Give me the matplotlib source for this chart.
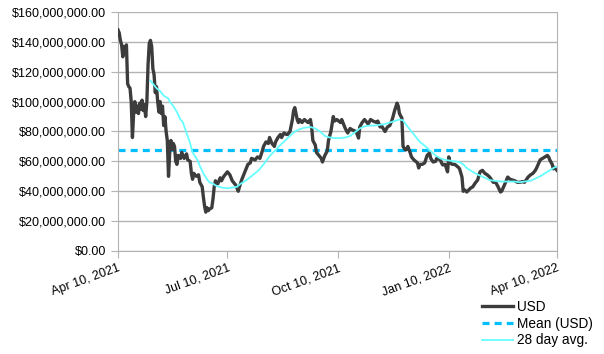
import numpy as np
import matplotlib
matplotlib.use("Agg")
from matplotlib import pyplot as plt
import matplotlib.dates as mdates
from matplotlib.ticker import FuncFormatter

start = np.datetime64("2021-04-10")

# daily value (millions USD), day offset from Apr 10, 2021
usd_days = [0, 1, 2, 3, 4, 5, 6, 7, 8, 9, 10, 11, 12, 13, 14, 15, 16, 17, 18, 19,
            20, 21, 22, 23, 24, 25, 26, 27, 28, 29, 30, 31, 32, 33, 34, 35, 36, 37, 38, 39,
            40, 41, 42, 43, 44, 45, 46, 47, 48, 49, 50, 52, 53, 55, 57, 58, 60, 61, 62, 63,
            65, 67, 68, 70, 71, 72, 73, 74, 75, 76, 78, 79, 80, 81, 83, 85, 86, 88, 90, 91,
            93, 95, 96, 98, 100, 101, 103, 106, 108, 110, 111, 114, 116, 118, 120, 121, 123, 125, 126, 128,
            130, 131, 133, 135, 136, 138, 140, 141, 143, 145, 146, 147, 149, 150, 151, 153, 155, 158, 160, 161,
            162, 164, 165, 167, 169, 170, 172, 174, 175, 177, 179, 180, 182, 185, 186, 189, 191, 193, 195, 198,
            200, 201, 203, 205, 208, 210, 212, 215, 216, 218, 219, 222, 224, 226, 228, 230, 232, 233, 234, 236,
            237, 239, 240, 241, 243, 244, 246, 249, 250, 251, 253, 255, 257, 259, 260, 262, 264, 265, 268, 269,
            270, 272, 274, 275, 276, 278, 280, 283, 284, 286, 287, 288, 290, 293, 295, 297, 299, 301, 303, 305,
            307, 309, 312, 314, 316, 318, 319, 322, 324, 326, 328, 330, 332, 334, 337, 338, 341, 343, 345, 347,
            348, 351, 353, 355, 357, 358, 359, 361, 362, 363, 365]
usd_vals = [148, 146, 141, 138, 130, 137, 133, 138, 112, 110, 109, 100, 76, 92, 100, 93, 97, 92, 99, 95,
            101, 94, 98, 90, 100, 125, 139, 141, 137, 122, 118, 106, 110, 100, 93, 100, 92, 97, 84, 90,
            80, 74, 50, 66, 74, 68, 72, 70, 60, 58, 64, 62, 66, 62, 65, 61, 60, 52, 48, 52,
            50, 51, 46, 43, 36, 30, 26, 29, 27, 28, 29, 35, 43, 47, 45, 49, 47, 50, 52, 53,
            51, 47, 46, 44, 40, 43, 48, 54, 58, 59, 62, 61, 63, 62, 67, 70, 73, 72, 76, 72,
            70, 73, 76, 78, 76, 79, 78, 78, 80, 88, 94, 96, 88, 86, 88, 86, 88, 86, 88, 83,
            74, 71, 66, 64, 62, 59.6, 64, 67, 74, 80, 90, 87, 88, 86, 88, 82, 79, 82, 81, 80,
            75.6, 83, 86, 88, 85, 88, 87, 86, 87, 83, 84, 80, 83, 84, 88, 94, 99, 97, 92, 89,
            70, 67.6, 68, 70, 65.6, 63, 61, 59, 55.6, 58, 58, 59, 64, 65.6, 62, 59.6, 60, 62, 61, 59,
            57.6, 58, 53, 63, 59, 58, 58, 56, 55, 49.5, 40, 41, 39.5, 42, 43, 45.5, 47.5, 53, 54, 52,
            51, 49.5, 46, 46, 43, 39.5, 40, 45.5, 49.5, 48, 47.5, 47, 46, 46, 46.5, 46, 49.5, 51, 52, 54,
            55.5, 61, 62, 63, 64, 63, 61, 58, 55, 56, 54]

avg_days = [27, 29, 32, 35, 38, 42, 43, 46, 49, 52, 54, 57, 60, 62, 66, 68, 71, 74, 76, 79,
            82, 86, 91, 95, 99, 101, 106, 110, 114, 118, 122, 126, 131, 135, 139, 143, 147, 151, 155, 160,
            164, 168, 172, 176, 180, 185, 189, 193, 197, 201, 205, 210, 214, 218, 222, 226, 230, 234, 237, 240,
            243, 247, 251, 255, 259, 264, 268, 272, 276, 280, 284, 287, 290, 293, 297, 301, 305, 309, 313, 318,
            322, 326, 330, 334, 338, 343, 347, 351, 355, 359, 363, 365]
avg_vals = [114, 112, 109, 107, 104, 102, 100, 97, 93, 88, 86, 79, 72, 66, 61, 57, 52, 48, 46, 45,
            43.5, 42.5, 42, 42.5, 43, 44.5, 47, 49.5, 52, 55, 59, 63.5, 67.6, 71, 74, 77, 80, 81.5, 82.5, 83,
            82, 80, 77, 76, 75.6, 75.6, 76, 77, 79.5, 82, 83.5, 84, 84, 84.5, 85, 86, 87, 88, 87.5, 84,
            81, 77, 73, 70.5, 67.6, 64, 62, 61, 60.5, 60, 59.5, 58, 55.5, 54, 52, 50.5, 49, 47.5, 47, 46.5,
            46.5, 46.5, 46.5, 46, 46.5, 47, 48.5, 50, 52, 54, 56, 56.5]

mean_val = 67.6  # millions

usd_dates = start + np.array(usd_days).astype("timedelta64[D]")
avg_dates = start + np.array(avg_days).astype("timedelta64[D]")
tick_dates = np.array(["2021-04-10", "2021-07-10", "2021-10-10", "2022-01-10", "2022-04-10"],
                      dtype="datetime64[D]")

plt.rcParams["font.family"] = ["Liberation Sans", "DejaVu Sans"]
fig = plt.figure(figsize=(6.04, 3.54), dpi=100)
ax = fig.add_axes([118/604, 1-251/354, (557-118)/604, (251-12)/354])

grid_c = "#b3b3b3"
ax.plot(usd_dates, np.array(usd_vals)*1e6, color="#3c3c3c", lw=2.4, label="USD", zorder=3)
ax.axhline(mean_val*1e6, color="#00bfff", lw=2.3, ls=(0, (2.2, 1.6)), label="Mean (USD)", zorder=2)
ax.plot(avg_dates, np.array(avg_vals)*1e6, color="#66ffff", lw=1.3, label="28 day avg.", zorder=4)

ax.set_xlim(tick_dates[0], tick_dates[-1])
ax.set_ylim(0, 160e6)
ax.set_yticks(np.arange(0, 160e6+1, 20e6))
ax.yaxis.set_major_formatter(FuncFormatter(lambda v, p: "${:,.2f}".format(v)))
ax.set_xticks(tick_dates)
ax.xaxis.set_major_formatter(mdates.DateFormatter("%b %d, %Y"))
for lab in ax.get_xticklabels():
    lab.set_rotation(20)
    lab.set_ha("right")
    lab.set_rotation_mode("anchor")

ax.grid(axis="y", color=grid_c, lw=1)
ax.set_axisbelow(True)
for s in ["left", "right", "bottom"]:
    ax.spines[s].set_color(grid_c)
ax.spines["top"].set_visible(False)
ax.tick_params(colors=grid_c, labelcolor="black", labelsize=9, length=5)
ax.tick_params(axis="x", pad=3)

fig.legend(loc="upper left", bbox_to_anchor=(482/604, 1-300/354), frameon=False,
           fontsize=9.8, handlelength=2.3, handletextpad=0.3, labelspacing=0.2,
           borderaxespad=0, borderpad=0)

fig.savefig("out.png", dpi=100)
